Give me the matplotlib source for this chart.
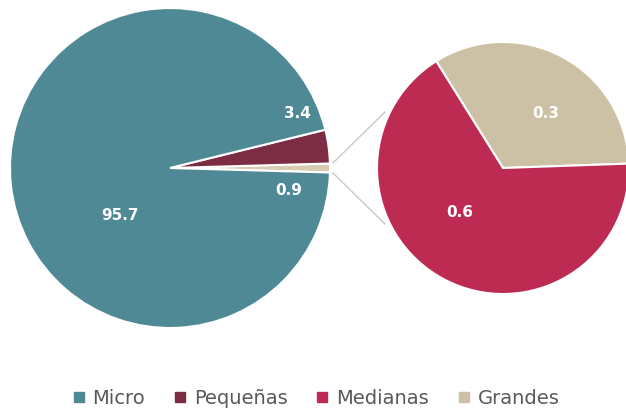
import matplotlib.pyplot as plt
from matplotlib.lines import Line2D

# Data
main_labels = ['Otras', 'Pequeñas', 'Micro']
main_values = [0.9, 3.4, 95.7]
sub_labels = ['Grandes', 'Medianas']
sub_values = [0.3, 0.6]
legend_names = ['Micro', 'Pequeñas', 'Medianas', 'Grandes']

colors = {'Micro': '#4f8995', 'Pequeñas': '#7d2d43', 'Medianas': '#bd2a52',
          'Grandes': '#cdc1a5', 'Otras': '#d8ccb2'}

W, H = 626, 411
fig = plt.figure(figsize=(W / 100, H / 100), dpi=100)
ax = fig.add_axes([0, 0, 1, 1])

# main pie, the "other" wedge centred on the horizontal to the right
c1, r1 = (170, H - 168), 160
ax.pie(main_values, colors=[colors[l] for l in main_labels], center=c1, radius=r1,
       startangle=-main_values[0] * 3.6 / 2, counterclock=True,
       wedgeprops=dict(edgecolor='white', linewidth=1.5), frame=True)

# secondary pie
c2, r2 = (503, H - 168), 126
ax.pie(sub_values, colors=[colors[l] for l in sub_labels], center=c2, radius=r2,
       startangle=2, counterclock=True,
       wedgeprops=dict(edgecolor='white', linewidth=1.5), frame=True)

ax.set_xlim(0, W)
ax.set_ylim(0, H)
ax.set_aspect('equal')
ax.axis('off')

# connector lines
ax.plot([333, 385], [H - 163, H - 112], color='#c8c8c8', lw=1)
ax.plot([333, 385], [H - 173, H - 224], color='#c8c8c8', lw=1)

# value labels
lab = dict(color='white', fontsize=11, fontweight='bold', ha='center', va='center')
ax.text(120, H - 215, f'{main_values[2]}', **lab)
ax.text(297, H - 113, f'{main_values[1]}', **lab)
ax.text(289, H - 190, f'{main_values[0]}', **lab)
ax.text(546, H - 113, f'{sub_values[0]}', **lab)
ax.text(460, H - 212, f'{sub_values[1]}', **lab)

handles = [Line2D([], [], marker='s', linestyle='none', markersize=7,
                  color=colors[n]) for n in legend_names]
fig.legend(handles, legend_names, loc='center', bbox_to_anchor=(0.505, 1 - 398 / H),
           ncol=4, frameon=False, fontsize=14, handlelength=0.6, handletextpad=0.4,
           columnspacing=1.5, labelcolor='#595959')

fig.savefig('out.png', dpi=100)
